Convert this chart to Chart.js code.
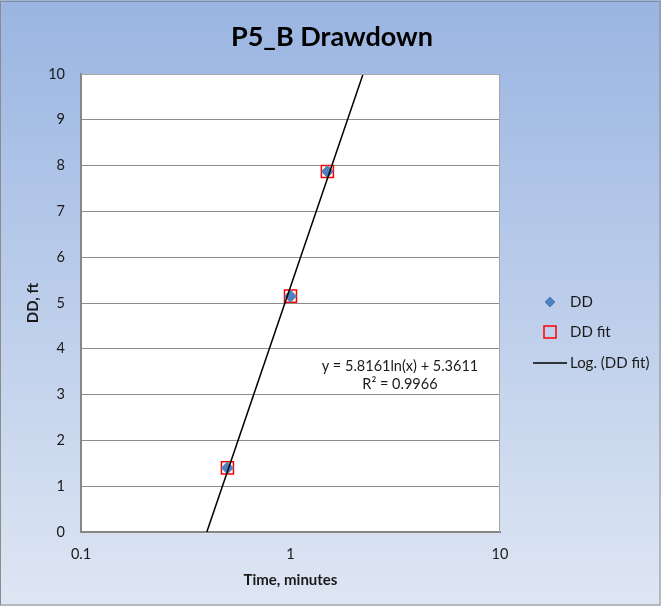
<!DOCTYPE html>
<html>
<head>
<meta charset="utf-8">
<script src="https://cdn.jsdelivr.net/npm/chart.js@4.4.1/dist/chart.umd.min.js"></script>
<style>
  html, body { margin: 0; padding: 0; background: #fff; }
  #wrap { width: 661px; height: 606px; position: relative; }
</style>
</head>
<body>
<div id="wrap"><canvas id="ddChart"></canvas></div>
<script>
// ── data
const timeMin = [0.5, 1.0, 1.5];
const ddFt    = [1.40, 5.15, 7.87];
const ddFit   = [1.40, 5.15, 7.87];
// log trendline y = 5.8161 ln(x) + 5.3611, ends where it leaves the plot
const trendX  = [0.3985, 2.2208];
const trendY  = [0, 10];
const xTicks  = [0.1, 1, 10];
const yTicks  = [0, 1, 2, 3, 4, 5, 6, 7, 8, 9, 10];
const chartTitle = 'P5_B Drawdown';
const trendText = ['y = 5.8161ln(x) + 5.3611', 'R\u00B2 = 0.9966'];
const trendTextAt = { x: 3.33, y: 3.62 };

const FONT = "Lato, 'Open Sans', sans-serif";
Chart.defaults.font.family = FONT;
Chart.defaults.color = '#1a1a1a';

const toXY = (xs, ys) => xs.map((x, i) => ({ x, y: ys[i] }));

// ── background, title, plot frame, legend and trend label (Excel look)
const excelFrame = {
  id: 'excelFrame',
  beforeDraw(chart) {
    const { ctx, width, height, chartArea: a } = chart;
    ctx.save();
    const g = ctx.createLinearGradient(0, 0, 0, height);
    g.addColorStop(0, '#9ab5e2');
    g.addColorStop(1, '#dee6f3');
    ctx.fillStyle = g;
    ctx.fillRect(0, 0, width, height);
    ctx.strokeStyle = '#8c8c8c';
    ctx.lineWidth = 1;
    ctx.strokeRect(0.5, 1.5, width - 1.5, height - 2.5);
    ctx.fillStyle = '#fff';
    ctx.fillRect(a.left, a.top, a.right - a.left, a.bottom - a.top);

    ctx.font = 'bold 27px ' + FONT;
    ctx.fillStyle = '#000';
    ctx.textAlign = 'center';
    ctx.textBaseline = 'middle';
    ctx.fillText(chartTitle, 332, 37);
    ctx.restore();
  },
  afterDraw(chart) {
    const { ctx, chartArea: a, scales } = chart;
    ctx.save();
    // top / right plot edge
    ctx.strokeStyle = '#a6a6a6';
    ctx.lineWidth = 1;
    ctx.beginPath();
    ctx.moveTo(a.left, a.top + 0.5);
    ctx.lineTo(a.right - 0.5, a.top + 0.5);
    ctx.lineTo(a.right - 0.5, a.bottom);
    ctx.stroke();

    // trendline equation
    ctx.font = '14.5px ' + FONT;
    ctx.fillStyle = '#1a1a1a';
    ctx.textAlign = 'center';
    ctx.textBaseline = 'middle';
    const tx = scales.x.getPixelForValue(trendTextAt.x);
    const ty = scales.y.getPixelForValue(trendTextAt.y);
    trendText.forEach((t, i) => ctx.fillText(t, tx, ty + i * 18));

    // legend
    const items = [chart.data.datasets[1], chart.data.datasets[2], chart.data.datasets[0]];
    const lx = 550, rows = [302, 332, 363];
    ctx.font = '15px ' + FONT;
    ctx.textAlign = 'left';
    items.forEach((ds, i) => {
      const y = rows[i];
      if (ds.showLine) {
        ctx.strokeStyle = ds.borderColor;
        ctx.lineWidth = 1.5;
        ctx.beginPath();
        ctx.moveTo(lx - 17, y);
        ctx.lineTo(lx + 17, y);
        ctx.stroke();
      } else {
        ctx.fillStyle = ds.backgroundColor;
        ctx.strokeStyle = ds.borderColor;
        ctx.lineWidth = ds.borderWidth;
        Chart.helpers.drawPoint(ctx, {
          pointStyle: ds.pointStyle,
          radius: ds.legendRadius,
          borderWidth: ds.borderWidth,
          rotation: 0
        }, lx, y);
      }
      ctx.fillStyle = '#1a1a1a';
      ctx.fillText(ds.label, lx + 20, y);
    });
    ctx.restore();
  }
};

new Chart(document.getElementById('ddChart'), {
  type: 'scatter',
  data: {
    datasets: [
      {
        label: 'Log. (DD fit)',
        data: toXY(trendX, trendY),
        showLine: true,
        borderColor: '#000',
        borderWidth: 1.5,
        pointRadius: 0,
        order: 0
      },
      {
        label: 'DD',
        data: toXY(timeMin, ddFt),
        pointStyle: 'rectRot',
        pointRadius: 6,
        legendRadius: 5,
        backgroundColor: '#4f81bd',
        borderColor: '#4f81bd',
        borderWidth: 1,
        order: 1
      },
      {
        label: 'DD fit',
        data: toXY(timeMin, ddFit),
        pointStyle: 'rect',
        pointRadius: 8.5,
        legendRadius: 8.5,
        backgroundColor: 'rgba(0,0,0,0)',
        borderColor: '#ff0000',
        borderWidth: 1.5,
        order: 2
      }
    ]
  },
  options: {
    responsive: true,
    maintainAspectRatio: false,
    animation: false,
    events: [],
    layout: { padding: { left: 0, right: 161, top: 74, bottom: 0 } },
    plugins: {
      legend: { display: false },
      tooltip: { enabled: false },
      title: { display: false }
    },
    scales: {
      x: {
        type: 'logarithmic',
        min: 0.1,
        max: 10,
        afterBuildTicks: s => { s.ticks = xTicks.map(v => ({ value: v })); },
        afterFit: s => { s.height = 74; },
        ticks: {
          padding: 14,
          font: { size: 14.5 },
          callback: v => String(v)
        },
        grid: { display: false, drawTicks: false },
        border: { color: '#868686', width: 2 },
        title: {
          display: true,
          text: 'Time, minutes',
          font: { size: 15, weight: 'bold' },
          padding: { top: 0, bottom: 17 }
        }
      },
      y: {
        min: 0,
        max: 10,
        afterBuildTicks: s => { s.ticks = yTicks.map(v => ({ value: v })); },
        afterFit: s => { s.width = 81; },
        ticks: { padding: 16, font: { size: 14.5 } },
        grid: { color: '#8c8c8c', lineWidth: 1, drawTicks: false },
        border: { color: '#868686', width: 2 },
        title: {
          display: true,
          text: 'DD, ft',
          font: { size: 15, weight: 'bold' },
          padding: { top: 24, bottom: 0 }
        }
      }
    }
  },
  plugins: [excelFrame]
});
</script>
</body>
</html>
